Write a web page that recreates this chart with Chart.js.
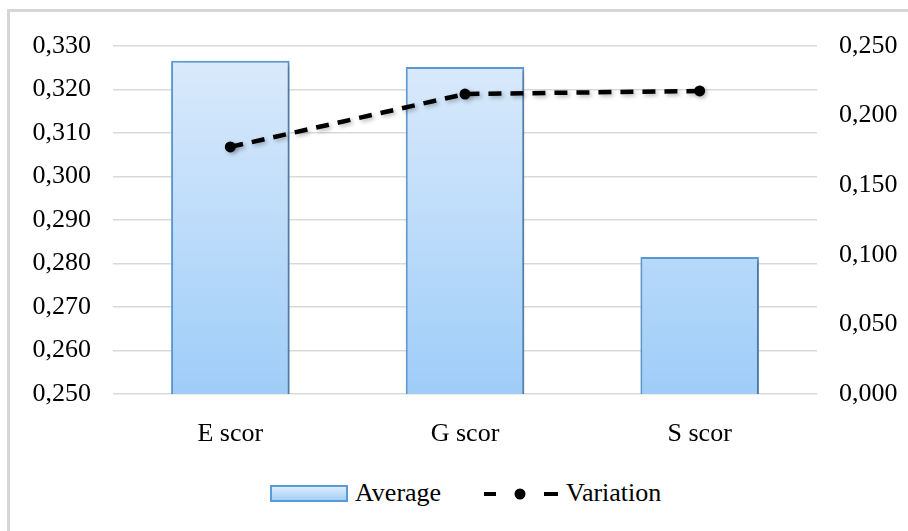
<script src="https://cdn.jsdelivr.net/npm/chart.js"></script>

<style>
  body { margin: 0; background: #fff; }
  #wrap { position: relative; width: 908px; height: 531px; overflow: hidden; background: #fff; font-family: "Liberation Serif", "Times New Roman", serif; }
  #frame { position: absolute; left: 7px; top: 9px; width: 940px; height: 560px; border: 3px solid #d6d6d6; border-right: none; border-bottom: none; }
  #box { position: absolute; left: 0; top: 0; width: 908px; height: 470px; }
  #legend { position: absolute; left: 0; top: 478px; width: 908px; height: 30px; font-size: 26px; color: #000; }
  .lg { position: absolute; top: 0; line-height: 30px; }
  .swatch { position: absolute; left: 270px; top: 7px; width: 74px; height: 13px; border: 2px solid #5b9bd5; background: linear-gradient(#dcebfb, #a3cff8); }
</style>

<div id="wrap">
  <div id="frame"></div>
  <div id="box"><canvas id="chart" width="908" height="470"></canvas></div>
  <div id="legend">
    <div class="swatch"></div>
    <span class="lg" style="left:355px">Average</span>
    <svg class="lg" style="left:482px; top:6px" width="80" height="20">
      <line x1="2" y1="10" x2="14" y2="10" stroke="#000" stroke-width="4" />
      <circle cx="38" cy="10" r="5.5" fill="#000" />
      <line x1="62" y1="10" x2="76" y2="10" stroke="#000" stroke-width="4" />
    </svg>
    <span class="lg" style="left:566px">Variation</span>
  </div>
</div>

<script>
  const categories = ['E scor', 'G scor', 'S scor'];
  const averageValues = [0.3266, 0.3252, 0.2815];
  const variationValues = [0.1775, 0.2155, 0.2177];
  const leftTicks = [0.25, 0.26, 0.27, 0.28, 0.29, 0.30, 0.31, 0.32, 0.33];
  const rightTicks = [0, 0.05, 0.10, 0.15, 0.20, 0.25];

  const fmt = v => v.toFixed(3).replace('.', ',');
  const serif = { family: '"Liberation Serif", "Times New Roman", serif', size: 26 };

  // bar fill: lighter at top, deeper blue at bottom
  function barGradient(ctx) {
    const area = ctx.chart.chartArea;
    if (!area) return '#bcdcfa';
    const g = ctx.chart.ctx.createLinearGradient(0, area.top, 0, area.bottom);
    g.addColorStop(0, '#dcebfb');
    g.addColorStop(1, '#9fcdf8');
    return g;
  }

  // soft drop shadow under bars and line
  const shadow = {
    id: 'shadow',
    beforeDatasetDraw(chart) {
      const c = chart.ctx;
      c.save();
      c.shadowColor = 'rgba(0,0,0,0.28)';
      c.shadowBlur = 4;
      c.shadowOffsetX = 2;
      c.shadowOffsetY = 2;
    },
    afterDatasetDraw(chart) {
      chart.ctx.restore();
    }
  };

  new Chart(document.getElementById('chart'), {
    data: {
      labels: categories,
      datasets: [
        {
          type: 'line',
          label: 'Variation',
          data: variationValues,
          yAxisID: 'y1',
          borderColor: '#000',
          backgroundColor: '#000',
          borderWidth: 4.5,
          borderDash: [13, 9],
          pointRadius: 5.5,
          pointBackgroundColor: '#000',
          pointBorderWidth: 0,
          tension: 0,
          order: 0
        },
        {
          type: 'bar',
          label: 'Average',
          data: averageValues,
          yAxisID: 'y',
          backgroundColor: barGradient,
          borderColor: '#5b9bd5',
          borderWidth: 2,
          borderSkipped: false,
          categoryPercentage: 1,
          barPercentage: 0.505,
          order: 1
        }
      ]
    },
    options: {
      responsive: false,
      animation: false,
      layout: { padding: { top: 46, bottom: 0, left: 0, right: 0 } },
      plugins: { legend: { display: false }, tooltip: { enabled: false } },
      scales: {
        x: {
          grid: { display: false },
          border: { display: false },
          ticks: { color: '#000', font: serif, padding: 17 },
          afterFit: s => { s.height = 76; }
        },
        y: {
          position: 'left',
          min: 0.25,
          max: 0.33,
          afterFit: s => { s.width = 113; },
          afterBuildTicks: s => { s.ticks = leftTicks.map(v => ({ value: v })); },
          grid: { color: '#d9d9d9', lineWidth: 1.5, drawTicks: false },
          border: { display: false },
          ticks: { color: '#000', font: serif, padding: 22, callback: v => fmt(v) }
        },
        y1: {
          position: 'right',
          min: 0,
          max: 0.25,
          afterFit: s => { s.width = 91; },
          afterBuildTicks: s => { s.ticks = rightTicks.map(v => ({ value: v })); },
          grid: { display: false, drawTicks: false },
          border: { display: false },
          ticks: { color: '#000', font: serif, padding: 22, callback: v => fmt(v) }
        }
      }
    },
    plugins: [shadow]
  });
</script>
